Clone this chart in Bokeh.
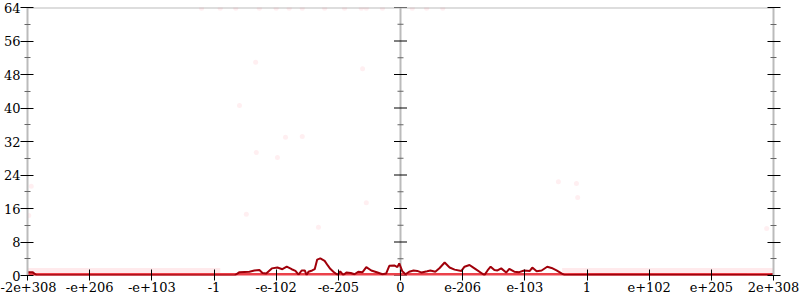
from bokeh.plotting import figure
from bokeh.models import Range1d, FixedTicker, LinearAxis, Span, CustomJSTickFormatter
from bokeh.embed import file_html
from bokeh.resources import INLINE

# ---- data ----
x_tick_pos = [-6, -5, -4, -3, -2, -1, 0, 1, 2, 3, 4, 5, 6]
x_tick_labels = ["-2e+308", "-e+206", "-e+103", "-1", "-e-102", "-e-205", "0",
                 "e-206", "e-103", "1", "e+102", "e+205", "2e+308"]
y_major = [0, 8, 16, 24, 32, 40, 48, 56, 64]
y_minor = [4, 12, 20, 28, 36, 44, 52, 60]

line_x = [-6.00, -5.92, -5.86, -2.67, -2.59, -2.43, -2.35, -2.27, -2.22, -2.16,
          -2.07, -1.98, -1.90, -1.83, -1.75, -1.69, -1.64, -1.59, -1.54, -1.51,
          -1.48, -1.42, -1.38, -1.34, -1.29, -1.22, -1.17, -1.13, -1.08, -1.01,
          -0.97, -0.92, -0.87, -0.80, -0.74, -0.68, -0.61, -0.55, -0.47, -0.37,
          -0.29, -0.23, -0.18, -0.10, -0.05, -0.02, 0.03, 0.08, 0.14, 0.21,
          0.27, 0.34, 0.43, 0.48, 0.56, 0.63, 0.71, 0.79, 0.87, 0.98,
          1.03, 1.11, 1.16, 1.22, 1.30, 1.35, 1.40, 1.45, 1.51, 1.56,
          1.62, 1.70, 1.75, 1.83, 1.91, 1.99, 2.08, 2.12, 2.19, 2.27,
          2.36, 2.43, 2.51, 2.59, 2.64, 3.20, 5.94, 6.00]
line_y = [0.8, 0.8, 0.1, 0.0, 0.8, 0.9, 1.2, 1.3, 0.6, 0.5,
          1.7, 1.9, 1.5, 2.1, 1.5, 1.1, 0.2, 1.2, 1.2, 0.1,
          0.9, 1.2, 1.5, 3.8, 4.1, 3.5, 2.4, 1.6, 0.9, 0.1,
          1.0, 0.1, 0.7, 0.6, 0.3, 0.9, 0.8, 2.0, 1.2, 0.7,
          0.3, 0.5, 2.3, 2.4, 2.0, 2.9, 1.0, 0.3, 0.9, 1.2,
          1.1, 0.7, 1.0, 1.2, 0.9, 1.8, 3.1, 1.9, 1.4, 1.1,
          2.1, 2.5, 2.0, 1.4, 0.6, 0.1, 1.2, 2.1, 1.3, 1.2,
          1.7, 0.7, 1.6, 0.9, 0.8, 1.2, 1.1, 1.9, 1.0, 1.2,
          2.1, 1.8, 1.2, 0.5, 0.1, 0.2, 0.1, 0.3]

baseline_x = [-6, 6]
baseline_y = [0, 0]

band_left_x = [-6.0, -2.9]
band_right_x = [2.6, 6.0]
band_y = 1.2

sample_x = [-2.33, -0.61, -2.59, -1.85, -1.58, -2.32, -1.98, -2.48, -1.32, -0.55,
            2.54, 2.83, 2.85, 5.89, -5.94, -5.98,
            -3.2, -2.9, -2.65, -2.27, -2.0, -1.79, -1.58, -1.22, -0.90, -0.63,
            -0.55, -0.29, 0.19, 0.42, 0.68]
sample_y = [50.9, 49.4, 40.6, 33.0, 33.2, 29.4, 28.2, 14.6, 11.5, 17.4,
            22.4, 22.0, 18.6, 11.2, 21.3, 14.3,
            63.8, 63.8, 63.8, 63.8, 63.8, 63.8, 63.8, 63.8, 63.8, 63.8,
            63.8, 63.8, 63.8, 63.8, 63.8]

FONT = "DejaVu Serif"
GRAY = "#bbbbbb"

p = figure(width=800, height=300, output_backend="svg", toolbar_location=None,
           x_range=Range1d(-6, 6), y_range=Range1d(0, 64),
           min_border_left=27, min_border_right=27, min_border_top=7,
           min_border_bottom=25, x_axis_location="below", y_axis_location="left")
p.grid.visible = False
p.outline_line_color = None
p.background_fill_color = "white"
p.border_fill_color = "white"

# left axis
ya = p.yaxis[0]
ya.ticker = FixedTicker(ticks=y_major, minor_ticks=y_minor)
ya.axis_line_color = GRAY
ya.axis_line_width = 2
ya.major_tick_in = 6
ya.major_tick_out = 7
ya.minor_tick_in = 3
ya.minor_tick_out = 3
ya.major_tick_line_color = "black"
ya.minor_tick_line_color = "#666666"
ya.major_label_standoff = 0
ya.major_label_text_font = FONT
ya.major_label_text_font_size = "13px"
ya.major_label_text_color = "black"

# right axis (ticks only)
ra = LinearAxis(ticker=FixedTicker(ticks=y_major, minor_ticks=y_minor),
                formatter=CustomJSTickFormatter(code="return ''"))
ra.axis_line_color = GRAY
ra.axis_line_width = 2
ra.major_tick_in = 6
ra.major_tick_out = 7
ra.minor_tick_in = 3
ra.minor_tick_out = 3
ra.major_tick_line_color = "black"
ra.minor_tick_line_color = "#666666"
p.add_layout(ra, "right")

# bottom axis
xa = p.xaxis[0]
xa.ticker = FixedTicker(ticks=x_tick_pos, minor_ticks=[])
xa.major_label_overrides = {t: l for t, l in zip(x_tick_pos, x_tick_labels)}
xa.axis_line_color = None
xa.major_tick_in = 6
xa.major_tick_out = 5
xa.major_tick_line_color = "black"
xa.major_label_standoff = 1
xa.major_label_text_font = FONT
xa.major_label_text_font_size = "13px"
xa.major_label_text_color = "black"

# top border and center axis
p.add_layout(Span(location=64, dimension="width", line_color=GRAY, line_width=2,
                  level="underlay"))
p.add_layout(Span(location=0, dimension="height", line_color=GRAY, line_width=2,
                  level="underlay"))
p.scatter([0] * len(y_major), y_major, marker="dash", size=13,
          line_color="black", line_width=1)
p.scatter([0] * len(y_minor), y_minor, marker="dash", size=6,
          line_color="#666666", line_width=1)

# faint samples
p.line(band_left_x, [band_y] * 2, line_color="#ff6070", line_width=5, line_alpha=0.13)
p.line(band_right_x, [band_y] * 2, line_color="#ff6070", line_width=5, line_alpha=0.13)
p.scatter(sample_x, sample_y, size=5, fill_color="#ff3048", line_color=None,
          fill_alpha=0.08)

# baseline & main line
p.line(baseline_x, baseline_y, line_color="#e8202a", line_width=5, line_alpha=0.85)
p.line(line_x, line_y, line_color="#a0000a", line_width=2)

open("out.html", "w").write(file_html(p, INLINE))
